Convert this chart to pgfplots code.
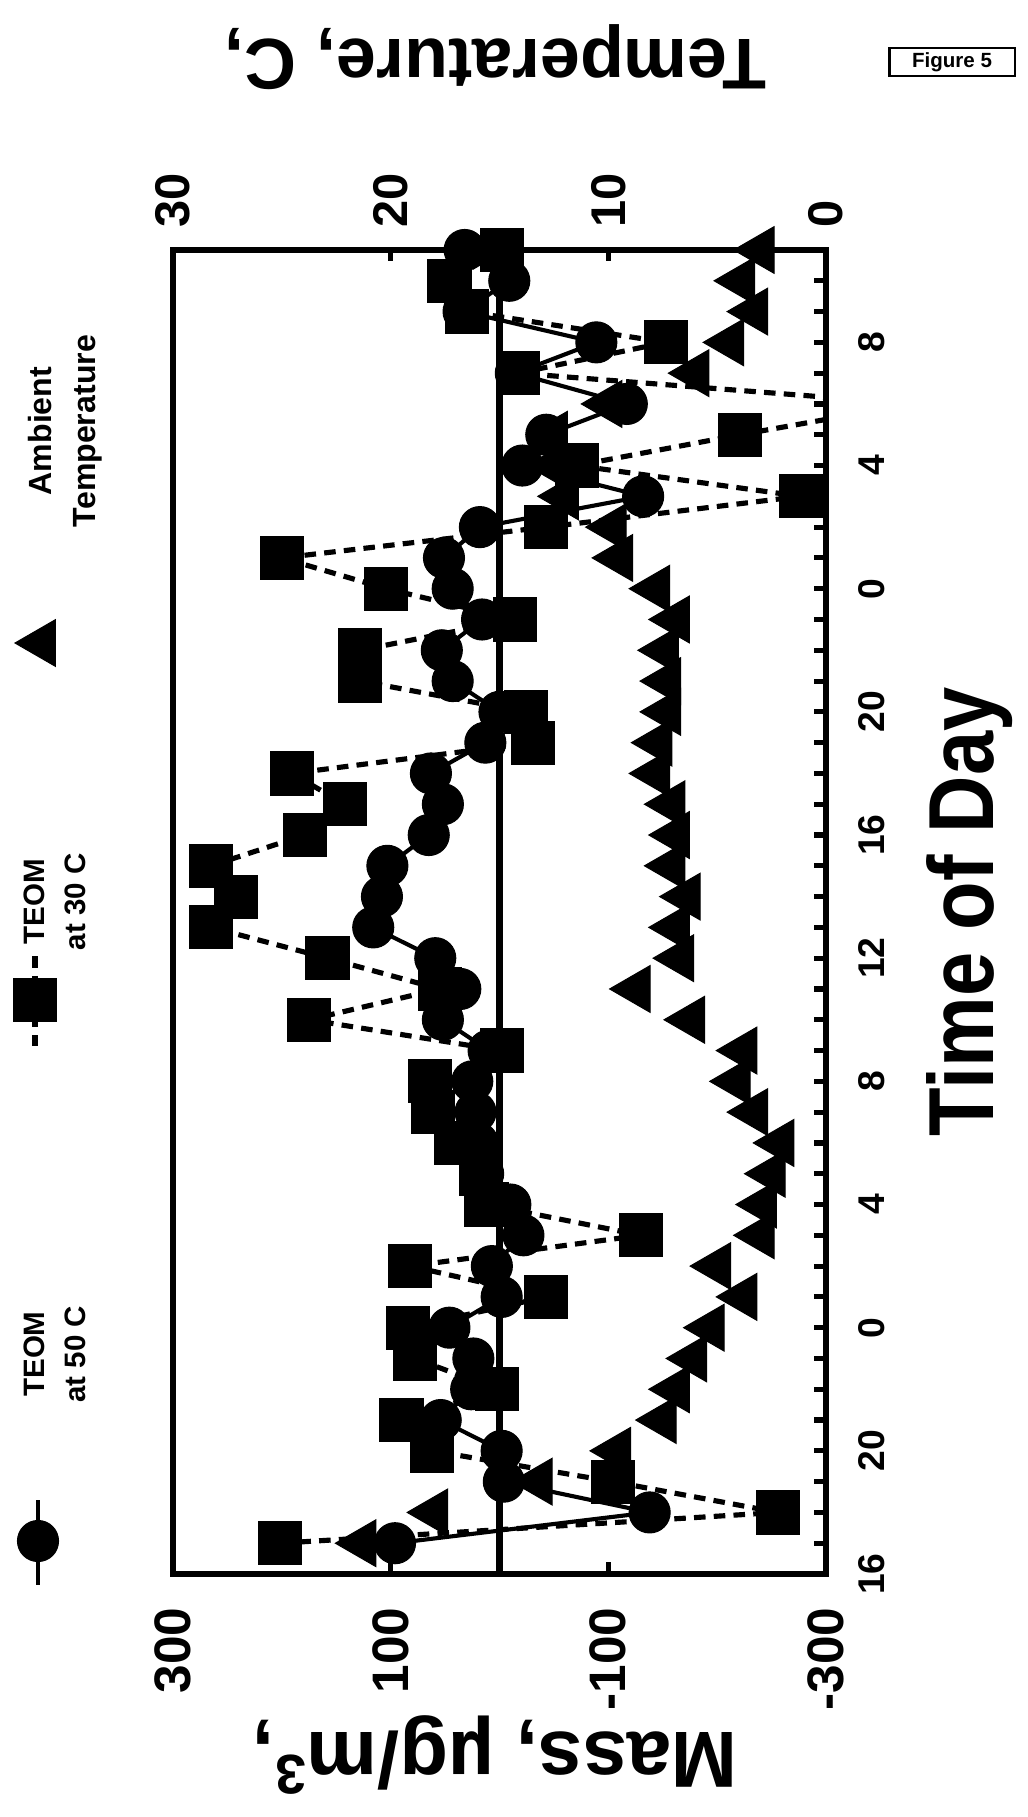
\documentclass[border=0pt]{standalone}
\usepackage{fontspec}
\setmainfont{Liberation Sans}
\usepackage{graphicx}
\usepackage{pgfplots}
\usepackage{pgfplotstable}
\pgfplotsset{compat=1.18}
\pgfplotstableread{
t m
17 96
18 -138
19 -4
20 -2
21 54
22 26
23 24
24 46
25 -2
26 7
27 -22
28 -10
29 15
30 20
31 22
32 25
33 10
34 52
35 36
36 59
37 116
38 108
39 103
40 65
41 52
42 63
43 13
44 0
45 43
46 53
47 16
48 43
49 51
50 18
51 -132
52 -21
53 -43
54 -117
55 -15
56 -89
57 33
58 -9
59 32
}\circles
\pgfplotstableread{
t m
17 202
18 -256
19 -104
20 62
21 90
22 2
23 78
24 84
25 -43
26 82
27 -130
28 12
29 17
30 40
31 61
32 64
33 -2
34 175
35 55
36 158
37 265
38 242
39 265
40 179
41 142
42 191
43 -31
44 -24
45 128
46 128
47 -14
48 104
49 200
50 -43
51 -277
52 -71
53 -221
54 -380
55 -17
56 -153
57 30
58 46
59 -2
}\squaresline
\pgfplotstableread{
t m
17 202
18 -256
19 -104
20 62
21 90
22 2
23 78
24 84
25 -43
26 82
27 -130
28 12
29 17
30 40
31 61
32 64
33 -2
34 175
35 55
36 158
37 265
38 242
39 265
40 179
41 142
42 191
43 -31
44 -24
45 128
46 128
47 -14
48 104
49 200
50 -43
51 -277
52 -71
53 -221
55 -17
56 -153
57 30
58 46
59 -2
}\squaresmarks
\pgfplotstableread{
t T
17 21.3
18 18.0
19 13.2
20 9.6
21 7.5
22 6.9
23 6.1
24 5.3
25 3.8
26 5.0
27 3.0
28 2.9
29 2.5
30 2.1
31 3.3
32 4.1
33 3.8
34 6.2
35 8.7
36 6.7
37 6.9
38 6.4
39 7.1
40 6.9
41 7.1
42 7.8
43 7.7
44 7.3
45 7.3
46 7.4
47 6.9
48 7.8
49 9.5
50 9.8
51 12.0
52 12.5
53 12.5
54 10.0
55 6.0
56 4.4
57 3.3
58 3.9
59 3.0
}\temps
\begin{document}
\begin{tikzpicture}
\useasboundingbox (0,0) rectangle (400pt,707.69pt);
% temperature axis (top)
\begin{axis}[
  at={(67.38pt,94.64pt)}, anchor=south west,
  scale only axis, width=254.33pt, height=515.68pt,
  x dir=reverse, xmin=0, xmax=30, ymin=16, ymax=59,
  axis x line*=top, axis y line=none,
  axis line style={line width=2.7pt},
  xtick={30,20,10,0}, xticklabels={30,20,10,0},
  tick align=inside, major tick length=4.3pt,
  every tick/.style={black, line width=2pt},
  xticklabel style={rotate=90, anchor=west, inner sep=0pt, font=\fontsize{19}{23}\selectfont\bfseries},
  xticklabel shift=8.5pt,
]
\addplot[only marks, mark=triangle*, mark size=10.5pt, mark options={rotate=90}] table[x=T,y=t] {\temps};
\end{axis}
% mass axis
\begin{axis}[
  at={(67.38pt,94.64pt)}, anchor=south west,
  scale only axis, width=254.33pt, height=515.68pt,
  x dir=reverse, xmin=-300, xmax=300, ymin=16, ymax=59,
  axis line style={line width=2.7pt},
  xtick={300,100,-100,-300}, xticklabels={300,100,-100,-300},
  xtick pos=left, xticklabel pos=left,
  ytick={16,20,...,56}, yticklabels={16,20,0,4,8,12,16,20,0,4,8},
  minor ytick={17,...,59},
  ytick pos=right, yticklabel pos=right,
  tick align=inside,
  major tick length=4.7pt, minor tick length=4.7pt,
  every tick/.style={black, line width=2pt},
  xticklabel style={rotate=90, anchor=east, inner sep=0pt, font=\fontsize{20}{24}\selectfont\bfseries},
  xticklabel shift=12.9pt,
  yticklabel style={rotate=90, anchor=north, inner sep=0pt, font=\fontsize{14.5}{17}\selectfont\bfseries},
  yticklabel shift=12.5pt,
]
\addplot[line width=2.4pt] coordinates {(0,16) (0,59)};
\addplot[line width=2pt, dash pattern=on 4.5pt off 3.2pt] table[x=m,y=t] {\squaresline};
\addplot[line width=1.6pt, line join=round] table[x=m,y=t] {\circles};
\addplot[only marks, mark=square*, mark size=8.4pt] table[x=m,y=t] {\squaresmarks};
\addplot[only marks, mark=*, mark size=8pt] table[x=m,y=t] {\circles};
\end{axis}
% legend symbols, placed in a page-sized axis
\begin{axis}[
  at={(0pt,0pt)}, anchor=south west,
  scale only axis, width=400pt, height=707.69pt,
  xmin=0, xmax=1027, ymin=0, ymax=1817, y dir=reverse,
  hide axis, clip=false,
]
\addplot[line width=1.6pt] coordinates {(38,1500) (38,1585)};
\addplot[only marks, mark=*, mark size=8pt] coordinates {(38,1541)};
\addplot[line width=2pt, dash pattern=on 4.5pt off 3.2pt] coordinates {(35,956) (35,1046)};
\addplot[only marks, mark=square*, mark size=8.4pt] coordinates {(35,1000)};
\addplot[only marks, mark=triangle*, mark size=10.5pt, mark options={rotate=90}] coordinates {(42,643)};
\end{axis}
\node[rotate=90, align=center, font=\fontsize{11.5}{16}\selectfont\bfseries] at (21.4pt,180.3pt) {TEOM\\at 50 C};
\node[rotate=90, align=center, font=\fontsize{11.5}{16}\selectfont\bfseries] at (21.4pt,356.4pt) {TEOM\\at 30 C};
\node[rotate=90, align=center, font=\fontsize{12.5}{17}\selectfont\bfseries] at (25.3pt,539.8pt) {Ambient\\Temperature};
\node[rotate=90, font=\fontsize{36}{40}\selectfont\bfseries] at (377.8pt,352.5pt) {\scalebox{0.86}[1]{Time of Day}};
\node[rotate=180, font=\fontsize{31}{35}\selectfont\bfseries] at (192.8pt,24.2pt) {Mass, µg/m\textsuperscript{3},};
\node[rotate=180, font=\fontsize{28}{32}\selectfont\bfseries] at (193pt,685.5pt) {Temperature, C,};
\node[draw, line width=0.8pt, minimum width=48.7pt, minimum height=10.9pt, inner sep=1pt, font=\fontsize{8}{9}\selectfont\bfseries] at (370.8pt,683.5pt) {Figure 5};
\end{tikzpicture}
\end{document}
